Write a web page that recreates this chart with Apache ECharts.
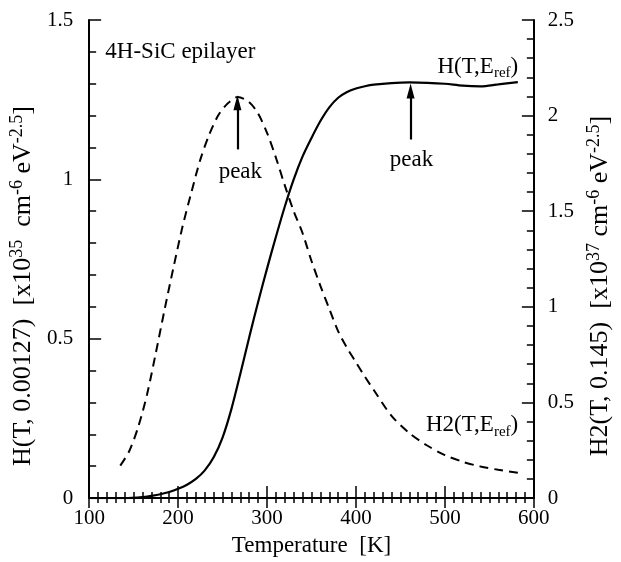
<!DOCTYPE html>
<html>
<head>
<meta charset="utf-8">
<script src="https://cdn.jsdelivr.net/npm/echarts@6/dist/echarts.min.js"></script>
<style>
html,body{margin:0;padding:0;background:#fff;}
#chart{width:621px;height:562px;}
</style>
</head>
<body>
<div id="chart"></div>
<script>
// Temperature [K] and H(T, Eref) (left axis, x1e35)
const hT = [100, 140, 160, 170, 180, 190, 200, 210, 220, 230, 240, 250, 260, 270, 280, 290, 300, 310, 320, 330, 340, 350, 360, 370, 380, 390, 400, 410, 420, 440, 460, 480, 500, 520, 540, 560, 582];
const hVal = [0, 0, 0.003, 0.007, 0.012, 0.019, 0.029, 0.042, 0.06, 0.087, 0.128, 0.19, 0.28, 0.39, 0.505, 0.615, 0.72, 0.82, 0.915, 1.0, 1.072, 1.13, 1.183, 1.226, 1.256, 1.274, 1.285, 1.292, 1.297, 1.302, 1.304, 1.303, 1.3, 1.294, 1.292, 1.298, 1.305];
// Temperature [K] and H2(T, Eref) (right axis, x1e37)
const h2T = [135, 145, 155, 165, 175, 185, 195, 205, 215, 225, 235, 245, 255, 267, 280, 290, 300, 310, 320, 330, 340, 350, 360, 370, 380, 390, 400, 410, 420, 440, 460, 480, 500, 520, 540, 560, 582];
const h2Val = [0.17, 0.245, 0.37, 0.54, 0.76, 0.99, 1.21, 1.42, 1.6, 1.77, 1.9, 2.0, 2.06, 2.097, 2.07, 2.01, 1.91, 1.78, 1.635, 1.5, 1.385, 1.24, 1.11, 0.99, 0.872, 0.785, 0.71, 0.635, 0.565, 0.43, 0.34, 0.275, 0.225, 0.19, 0.165, 0.148, 0.132];
// Axis ticks
const xTicks = {min: 100, max: 600, step: 100};
const yLeftTicks = {min: 0, max: 1.5, step: 0.5};
const yRightTicks = {min: 0, max: 2.5, step: 0.5};
// Annotations: [T, left value]
const peakArrows = [[266.7, 1.094, 1.24], [461.4, 1.125, 1.277]];
const peakLabels = [[270, 1.023], [462.5, 1.06]];
const sampleLabelPos = [118.2, 1.401];
const hLabelPos = [582.4, 1.354];
const h2LabelPos = [582.4, 0.228];

const FONT = '"Liberation Serif", "Times New Roman", serif';
const chart = echarts.init(document.getElementById('chart'));

const hData = hT.map((t, i) => [t, hVal[i]]);
const h2Data = h2T.map((t, i) => [t, h2Val[i]]);

const axisLine = {show: true, lineStyle: {color: '#000', width: 2}};
const tickStyle = {color: '#000', width: 1.5};

const richName = {
  sup: {fontSize: 18, fontFamily: FONT, color: '#000', verticalAlign: 'top', lineHeight: 30},
  n: {fontSize: 26, fontFamily: FONT, color: '#000', lineHeight: 30},
  pad: {width: 54, fontSize: 26, lineHeight: 30}
};
const richLabel = {
  sub: {fontSize: 15, fontFamily: FONT, color: '#000', verticalAlign: 'bottom', lineHeight: 20},
  n: {fontSize: 23, fontFamily: FONT, color: '#000', lineHeight: 28}
};

const option = {
  animation: false,
  backgroundColor: '#fff',
  grid: {left: 88.5, right: 78, top: 20, bottom: 56, containLabel: false},
  xAxis: [{
    type: 'value', min: xTicks.min, max: xTicks.max, interval: xTicks.step,
    position: 'bottom',
    axisLine: axisLine,
    axisTick: {show: true, inside: true, length: 12, lineStyle: tickStyle},
    minorTick: {show: true, splitNumber: 10, length: 6, lineStyle: tickStyle},
    splitLine: {show: false},
    axisLabel: {color: '#000', fontSize: 21, fontFamily: FONT, margin: 10},
    name: 'Temperature  [K]', nameLocation: 'middle', nameGap: 31,
    nameTextStyle: {color: '#000', fontSize: 23, fontFamily: FONT}
  }, {
    type: 'value', min: xTicks.min, max: xTicks.max, interval: xTicks.step,
    position: 'top',
    axisLine: axisLine,
    axisTick: {show: true, inside: true, length: 10, lineStyle: tickStyle},
    minorTick: {show: true, splitNumber: 10, length: 5, lineStyle: tickStyle},
    splitLine: {show: false},
    axisLabel: {show: false}
  }],
  yAxis: [{
    type: 'value', min: yLeftTicks.min, max: yLeftTicks.max, interval: yLeftTicks.step,
    position: 'left',
    axisLine: axisLine,
    axisTick: {show: true, inside: true, length: 12, lineStyle: tickStyle},
    minorTick: {show: true, splitNumber: 5, length: 7, lineStyle: tickStyle},
    splitLine: {show: false},
    axisLabel: {color: '#000', fontSize: 21, fontFamily: FONT, margin: 16},
    name: '{n|H(T, 0.00127)  [x10}{sup|35}{n|  cm}{sup|-6}{n| eV}{sup|-2.5}{n|]}{pad|}',
    nameLocation: 'middle', nameRotate: 90, nameGap: 30,
    nameTextStyle: {color: '#000', fontSize: 26, fontFamily: FONT, rich: richName}
  }, {
    type: 'value', min: yRightTicks.min, max: yRightTicks.max, interval: yRightTicks.step,
    position: 'right',
    axisLine: axisLine,
    axisTick: {show: true, inside: true, length: 12, lineStyle: tickStyle},
    minorTick: {show: true, splitNumber: 5, length: 7, lineStyle: tickStyle},
    splitLine: {show: false},
    axisLabel: {color: '#000', fontSize: 21, fontFamily: FONT, margin: 14},
    name: '{n|H2(T, 0.145)  [x10}{sup|37}{n| cm}{sup|-6}{n| eV}{sup|-2.5}{n|]}{pad|}',
    nameLocation: 'middle', nameRotate: 90, nameGap: 51,
    nameTextStyle: {color: '#000', fontSize: 26, fontFamily: FONT, rich: richName}
  }],
  series: [{
    name: 'H', type: 'line', xAxisIndex: 0, yAxisIndex: 0,
    data: hData, smooth: 0.3, showSymbol: false, symbol: 'none',
    lineStyle: {color: '#000', width: 2.2, type: 'solid'},
    markLine: {
      silent: true, symbol: ['none', 'triangle'], symbolSize: [8, 15],
      lineStyle: {color: '#000', width: 2.2, type: 'solid'},
      label: {show: false},
      data: peakArrows.map(a => [{coord: [a[0], a[1]]}, {coord: [a[0], a[2]]}])
    },
    markPoint: {
      silent: true, symbol: 'circle', symbolSize: 0,
      data: [
        ...peakLabels.map(p => ({coord: p, label: {show: true, formatter: 'peak', position: 'inside', color: '#000', fontSize: 23, fontFamily: FONT}})),
        {coord: sampleLabelPos, label: {show: true, formatter: '4H-SiC epilayer', position: 'right', distance: 0, color: '#000', fontSize: 23, fontFamily: FONT}},
        {coord: hLabelPos, label: {show: true, formatter: '{n|H(T,E}{sub|ref}{n|)}', position: 'left', distance: 0, rich: richLabel}},
        {coord: h2LabelPos, label: {show: true, formatter: '{n|H2(T,E}{sub|ref}{n|)}', position: 'left', distance: 0, rich: richLabel}}
      ]
    }
  }, {
    name: 'H2', type: 'line', xAxisIndex: 0, yAxisIndex: 1,
    data: h2Data, smooth: 0.3, showSymbol: false, symbol: 'none',
    lineStyle: {color: '#000', width: 2, type: [9, 6]}
  }]
};
chart.setOption(option);
</script>
</body>
</html>
